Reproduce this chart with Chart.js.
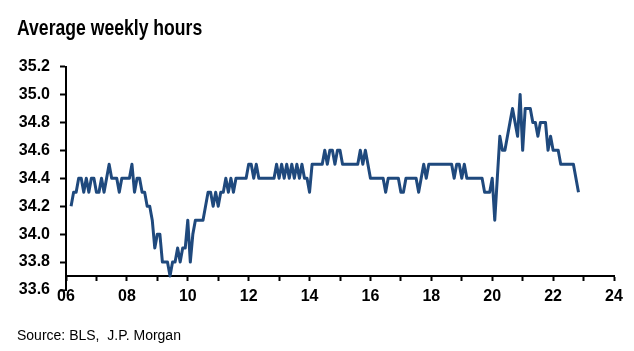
<!DOCTYPE html>
<html>
<head>
<meta charset="utf-8">
<script src="https://cdn.jsdelivr.net/npm/chart.js@4.4.1/dist/chart.umd.min.js"></script>
<style>
  html, body { margin: 0; padding: 0; background: #fff; }
  #wrap { position: relative; width: 634px; height: 351px; overflow: hidden; }
  #hoursChart { position: absolute; left: 0; top: 0; }
  #title {
    position: absolute; left: 17px; top: 15px; line-height: 1; white-space: nowrap;
    font: bold 22px 'Liberation Sans', Arial, sans-serif; color: #000;
    transform: scaleX(0.8); transform-origin: left top;
  }
  #source {
    position: absolute; left: 17px; top: 327px; line-height: 1; white-space: nowrap;
    font: 14px 'Liberation Sans', Arial, sans-serif; color: #000;
  }
</style>
</head>
<body>
<div id="wrap">
  <canvas id="hoursChart" width="634" height="351"></canvas>
  <div id="title">Average weekly hours</div>
  <div id="source">Source: BLS,&nbsp; J.P. Morgan</div>
</div>
<script>
// average weekly hours, monthly; 2006 starts in March
const hours2006 = [34.2, 34.3, 34.3, 34.4, 34.4, 34.3, 34.4, 34.3, 34.4, 34.4];
const hours2007 = [34.3, 34.3, 34.4, 34.3, 34.4, 34.5, 34.4, 34.4, 34.4, 34.3, 34.4, 34.4];
const hours2008 = [34.4, 34.4, 34.5, 34.3, 34.4, 34.4, 34.3, 34.3, 34.2, 34.2, 34.1, 33.9];
const hours2009 = [34.0, 34.0, 33.8, 33.8, 33.8, 33.7, 33.8, 33.8, 33.9, 33.8, 33.9, 33.9];
const hours2010 = [34.1, 33.8, 34.0, 34.1, 34.1, 34.1, 34.1, 34.2, 34.3, 34.3, 34.2, 34.3];
const hours2011 = [34.2, 34.3, 34.3, 34.4, 34.3, 34.4, 34.3, 34.4, 34.4, 34.4, 34.4, 34.4];
const hours2012 = [34.5, 34.5, 34.4, 34.5, 34.4, 34.4, 34.4, 34.4, 34.4, 34.4, 34.4, 34.5];
const hours2013 = [34.4, 34.5, 34.4, 34.5, 34.4, 34.5, 34.4, 34.5, 34.4, 34.5, 34.4, 34.4];
const hours2014 = [34.3, 34.5, 34.5, 34.5, 34.5, 34.5, 34.6, 34.5, 34.6, 34.6, 34.5, 34.6];
const hours2015 = [34.6, 34.5, 34.5, 34.5, 34.5, 34.5, 34.5, 34.5, 34.6, 34.5, 34.6, 34.5];
const hours2016 = [34.4, 34.4, 34.4, 34.4, 34.4, 34.4, 34.3, 34.4, 34.4, 34.4, 34.4, 34.4];
const hours2017 = [34.3, 34.3, 34.4, 34.4, 34.4, 34.4, 34.4, 34.3, 34.4, 34.5, 34.4, 34.5];
const hours2018 = [34.5, 34.5, 34.5, 34.5, 34.5, 34.5, 34.5, 34.5, 34.5, 34.4, 34.5, 34.5];
const hours2019 = [34.4, 34.5, 34.4, 34.4, 34.4, 34.4, 34.4, 34.4, 34.4, 34.3, 34.3, 34.3];
const hours2020 = [34.4, 34.1, 34.4, 34.7, 34.6, 34.6, 34.7, 34.8, 34.9, 34.8, 34.7, 35.0];
const hours2021 = [34.6, 34.9, 34.9, 34.9, 34.8, 34.8, 34.7, 34.8, 34.8, 34.8, 34.6, 34.7];
const hours2022 = [34.6, 34.6, 34.6, 34.5, 34.5, 34.5, 34.5, 34.5, 34.5, 34.4, 34.3];

const firstYear = 2006;
const firstMonth = 2; // 0 = January

const yearTicks = [2006, 2007, 2008, 2009, 2010, 2011, 2012, 2013, 2014, 2015,
  2016, 2017, 2018, 2019, 2020, 2021, 2022, 2023, 2024];
const xTickLabels = ['06', '08', '10', '12', '14', '16', '18', '20', '22', '24'];
const yTicks = [33.6, 33.8, 34.0, 34.2, 34.4, 34.6, 34.8, 35.0, 35.2];

const byYear = [hours2006, hours2007, hours2008, hours2009, hours2010, hours2011,
  hours2012, hours2013, hours2014, hours2015, hours2016, hours2017, hours2018,
  hours2019, hours2020, hours2021, hours2022];

const points = [];
byYear.forEach((vals, yi) => {
  vals.forEach((v, j) => {
    const month = yi === 0 ? firstMonth + j : j;
    points.push({ x: firstYear + yi + month / 12, y: v });
  });
});

Chart.defaults.font.family = "'Liberation Sans', Arial, sans-serif";
Chart.defaults.color = '#000';

const ctx = document.getElementById('hoursChart').getContext('2d');
new Chart(ctx, {
  type: 'line',
  data: {
    datasets: [
      {
        label: 'Average weekly hours',
        data: points,
        borderColor: '#1F497D',
        borderWidth: 3,
        borderJoinStyle: 'round',
        pointRadius: 0,
        fill: false,
        tension: 0,
      },
    ],
  },
  options: {
    responsive: false,
    animation: false,
    devicePixelRatio: 1,
    layout: {
      padding: { left: 16, right: 20, top: 66.5, bottom: 61 },
    },
    plugins: {
      legend: { display: false },
      tooltip: { enabled: false },
    },
    scales: {
      x: {
        type: 'linear',
        min: 2006,
        max: 2024,
        position: { y: 33.7 },
        afterBuildTicks: (s) => {
          s.ticks = yearTicks.map((v) => ({ value: v }));
        },
        afterFit: (s) => {
          s.height = 0;
        },
        ticks: {
          autoSkip: false,
          maxRotation: 0,
          padding: 7,
          color: '#000',
          font: { size: 16, weight: 'bold' },
          callback: (v) => (v % 2 === 0 ? xTickLabels[(v - firstYear) / 2] : ''),
        },
        grid: {
          drawOnChartArea: false,
          drawTicks: true,
          tickLength: 4,
          tickWidth: 2,
          tickColor: '#000',
        },
        border: { display: true, color: '#000', width: 2 },
      },
      y: {
        min: 33.6,
        max: 35.2,
        afterBuildTicks: (s) => {
          s.ticks = yTicks.map((v) => ({ value: v }));
        },
        afterFit: (s) => {
          s.width = 50;
        },
        ticks: {
          padding: 10,
          color: '#000',
          font: { size: 16, weight: 'bold' },
          callback: (v) => v.toFixed(1),
        },
        grid: {
          drawOnChartArea: false,
          tickLength: 6,
          tickWidth: 2,
          tickColor: '#000',
        },
        border: { display: true, color: '#000', width: 2 },
      },
    },
  },
});
</script>
</body>
</html>
